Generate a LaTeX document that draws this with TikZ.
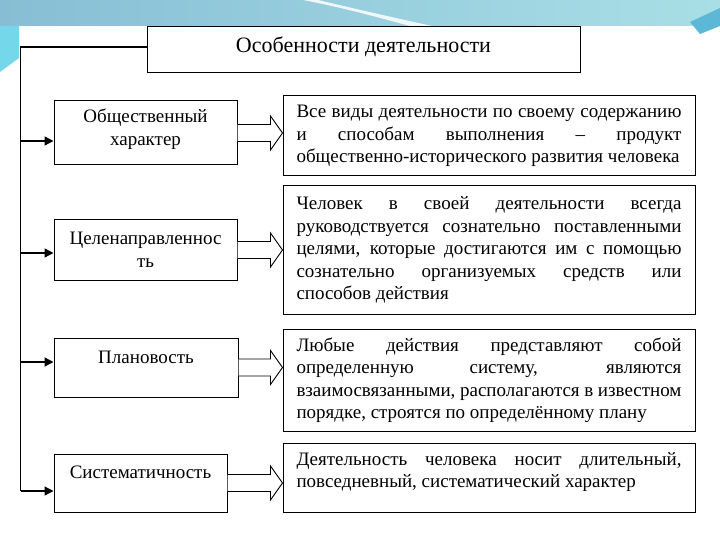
\documentclass[tikz,border=0pt]{standalone}
\usepackage{fontspec}
\setmainfont{Liberation Serif}
\usetikzlibrary{positioning,arrows.meta,calc}
\definecolor{bandblue}{HTML}{88BED5}
\definecolor{bandcyan}{HTML}{A8DFE6}
\definecolor{edgecyan}{HTML}{74D8EA}
\definecolor{streak}{HTML}{5CB8D6}
\hyphenpenalty=10000
\exhyphenpenalty=10000

\begin{document}
\begin{tikzpicture}[x=1pt,y=-1pt,>={Triangle[length=9pt,width=9pt]},
  box/.style={draw,line width=1pt,fill=white,inner sep=0pt,align=center,font=\fontsize{19}{23}\selectfont},
  note/.style={box,text width=385pt,align=justify,minimum width=412pt,font=\fontsize{19}{22.5}\selectfont},
  wire/.style={line width=1.3pt},
  fat/.style={draw,line width=0.9pt,fill=white,line join=miter}]
\useasboundingbox (0,0) rectangle (720,540);
% backdrop
\fill[white] (0,0) rectangle (720,540);
\shade[left color=bandblue,right color=bandcyan] (0,0) rectangle (720,26);
\fill[white,opacity=0.85] (318,0) .. controls (360,10) and (400,19) .. (432,26) -- (410,26) .. controls (380,18) and (345,8) .. (303,0) -- cycle;
\fill[streak] (690,22) -- (720,8) -- (720,26) -- (700,34) -- cycle;
\fill[edgecyan] (0,26) -- (19,26) -- (19,58) -- (0,72) -- cycle;
% title and features
\node[box,minimum width=433pt,minimum height=46pt,text depth=10pt,font=\fontsize{22}{26}\selectfont] (head) at (363.5,50) {Особенности деятельности};
\node[box,minimum width=183pt,minimum height=64pt,text depth=11pt] (f1) at (145.5,133) {Общественный\\характер};
\node[box,minimum width=183pt,minimum height=60pt] (f2) at (145.5,250) {Целенаправленнос\\ть};
\node[box,minimum width=184pt,minimum height=59pt,text depth=21pt] (f3) at (146,367.5) {Плановость};
\node[box,minimum width=173pt,minimum height=58pt,text depth=22pt] (f4) at (140.5,483) {Систематичность};
% descriptions
\node[note,minimum height=80pt] (d1) at (489,136) {Все виды деятельности по своему содержанию\linebreak и способам выполнения – продукт\linebreak общественно-исторического развития человека};
\node[note,minimum height=128pt] (d2) at (489,250) {Человек в своей деятельности всегда\linebreak руководствуется сознательно поставленными\linebreak целями, которые достигаются им с помощью\linebreak сознательно организуемых средств или\linebreak способов действия};
\node[note,minimum height=102pt] (d3) at (489,380) {Любые действия представляют собой\linebreak определенную систему, являются\linebreak взаимосвязанными, располагаются в известном\linebreak порядке, строятся по определённому плану};
\node[note,minimum height=69pt,text depth=38pt] (d4) at (489,477.5) {Деятельность человека носит длительный,\linebreak повседневный, систематический характер};
% trunk
\coordinate (top) at (20.5,47);
\coordinate (j1) at (20.5,141);
\coordinate (j2) at (20.5,253);
\coordinate (j3) at (20.5,362);
\coordinate (j4) at (20.5,491);
\draw[wire] (head.west |- top) -- (top) -- (j4);
\foreach \i in {1,...,4}
  \draw[wire,->] (j\i) -- (j\i -| f\i.west);
% block arrows
\foreach \i in {1,...,4}
  \draw[fat] ($(f\i.east)+(0,-8.5)$) -- ($(f\i.east -| d\i.west)+(-12,-8.5)$) -- ++(0,-8.5)
    -- (f\i.east -| d\i.west) -- ++(-12,17) -- ++(0,-8.5) -- ($(f\i.east)+(0,8.5)$);
\end{tikzpicture}
\end{document}
